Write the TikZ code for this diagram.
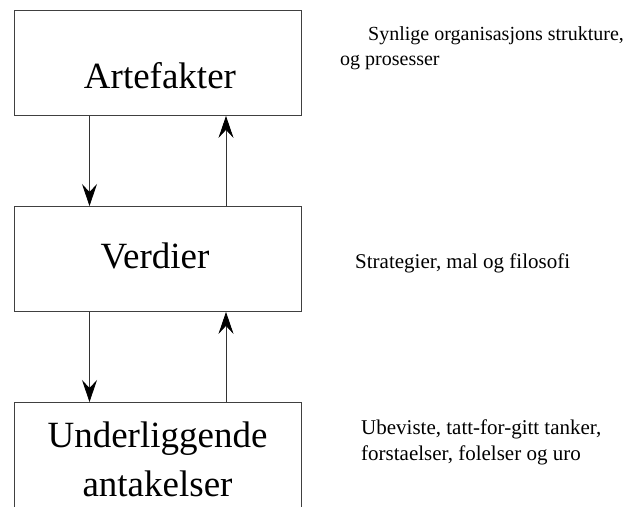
\documentclass[tikz,border=0pt]{standalone}
\usepackage{fontspec}
\setmainfont{Liberation Serif}
\usetikzlibrary{arrows.meta}
\begin{document}
\begin{tikzpicture}[x=1pt,y=-1pt,
  layerbox/.style={draw=black!75,line width=0.9pt,anchor=north west,inner sep=0pt,minimum width=287pt},
  bigtext/.style={font=\fontsize{37}{49}\selectfont,anchor=base,align=center,inner sep=0pt},
  notetext/.style={anchor=base west,align=left,inner sep=0pt},
  flow/.style={draw=black!80,line width=0.8pt,-{Stealth[length=22pt,width=15pt,inset=8pt,black]}}]
  \useasboundingbox (0,0) rectangle (639,506);
  \clip (0,0) rectangle (639,506);
  % the three layers
  \node[layerbox,minimum height=105.5pt] (art) at (14,9.5) {};
  \node[layerbox,minimum height=105pt] (ver) at (14,206) {};
  \node[layerbox,minimum height=130pt] (und) at (14,402) {};
  % layer titles (base anchor sits on the last line)
  \node[bigtext] (artT) at (160,88) {Artefakter};
  \node[bigtext] (verT) at (155,268) {Verdier};
  \node[bigtext] (undT) at (157.5,496) {Underliggende\\antakelser};
  % descriptions
  \node[notetext,font=\fontsize{20}{25}\selectfont] (artN) at (340,65)
    {\hspace*{28pt}Synlige organisasjons strukture,\\og prosesser};
  \node[notetext,font=\fontsize{21}{26}\selectfont] (verN) at (355,268)
    {Strategier, mal og filosofi};
  \node[notetext,font=\fontsize{21}{26}\selectfont] (undN) at (361,460)
    {Ubeviste, tatt-for-gitt tanker,\\forstaelser, folelser og uro};
  % arrows between layers
  \draw[flow] ([xshift=75.5pt]art.south west) -- ([xshift=75.5pt]ver.north west);
  \draw[flow] ([xshift=212pt]ver.north west) -- ([xshift=212pt]art.south west);
  \draw[flow] ([xshift=75.5pt]ver.south west) -- ([xshift=75.5pt]und.north west);
  \draw[flow] ([xshift=212pt]und.north west) -- ([xshift=212pt]ver.south west);
\end{tikzpicture}
\end{document}
